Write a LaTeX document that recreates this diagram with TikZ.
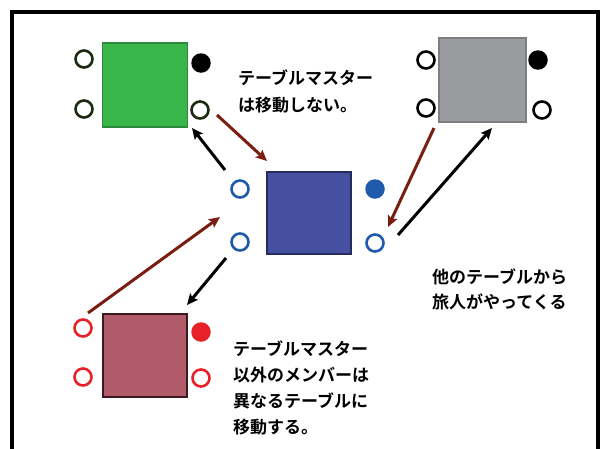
\documentclass[tikz,border=0pt]{standalone}
\usepackage{fontspec}
\newfontfamily\jpfont{Noto Sans CJK JP Bold}
\usetikzlibrary{arrows.meta}
\definecolor{gfill}{HTML}{3AB54A}
\definecolor{gline}{HTML}{2C8A3A}
\definecolor{gring}{HTML}{1C2A12}
\definecolor{grayfill}{HTML}{9A9B9F}
\definecolor{grayline}{HTML}{7E7F82}
\definecolor{bfill}{HTML}{4650A0}
\definecolor{bline}{HTML}{262B5C}
\definecolor{bring}{HTML}{1F5BAA}
\definecolor{rfill}{HTML}{B05A6A}
\definecolor{rline}{HTML}{3A1A1E}
\definecolor{rring}{HTML}{E8202A}
\definecolor{brown}{HTML}{7A1E12}
\tikzset{
  seat/.style={circle, minimum size=17pt, inner sep=0pt, line width=2.6pt, draw=#1, fill=white},
  seatfull/.style={circle, minimum size=19.5pt, inner sep=0pt, draw=none, fill=#1},
  tablebox/.style={rectangle, inner sep=0pt, line width=1.5pt},
  label/.style={font=\jpfont\fontsize{17pt}{20pt}\selectfont, anchor=base west, inner sep=0pt},
  blackarrow/.style={line width=3pt, draw=black, -{Stealth[length=11pt,width=10pt,inset=2pt]}},
  brownarrow/.style={line width=3pt, draw=brown, -{Stealth[length=11pt,width=10pt,inset=2pt]}},
}
\begin{document}
\begin{tikzpicture}[x=1pt,y=-1pt]
\useasboundingbox (0,0) rectangle (608,448);
\fill[white] (0,0) rectangle (608,448);
\draw[line width=3.5pt] (12,470) -- (12,12) -- (598,12) -- (598,470);

% green table
\node[tablebox, fill=gfill, draw=gline, minimum width=85pt, minimum height=84pt] (gt) at (145,85) {};
\node[seat=gring] (g1) at (84,59) {};
\node[seat=gring] (g2) at (84,109) {};
\node[seatfull=black] (g3) at (201,63) {};
\node[seat=gring] (g4) at (200,110) {};

% gray table
\node[tablebox, fill=grayfill, draw=grayline, minimum width=87pt, minimum height=84pt] (yt) at (482.5,80) {};
\node[seat=black] (y1) at (426,60) {};
\node[seat=black] (y2) at (426,108) {};
\node[seatfull=black] (y3) at (538,60) {};
\node[seat=black] (y4) at (542,110) {};

% blue table
\node[tablebox, fill=bfill, draw=bline, minimum width=84pt, minimum height=82pt] (bt) at (309,213) {};
\node[seat=bring] (b1) at (240,189) {};
\node[seat=bring] (b2) at (240,242) {};
\node[seatfull=bring] (b3) at (375,189) {};
\node[seat=bring] (b4) at (375,243) {};

% red table
\node[tablebox, fill=rfill, draw=rline, minimum width=84pt, minimum height=83pt] (rt) at (145,355.5) {};
\node[seat=rring] (r1) at (83,328) {};
\node[seat=rring] (r2) at (83,377) {};
\node[seatfull=rring] (r3) at (201,332) {};
\node[seat=rring] (r4) at (201,378) {};

% arrow end points
\coordinate (k1s) at (225,170); \coordinate (k1e) at (192,128);
\coordinate (m1s) at (217,115); \coordinate (m1e) at (267,161);
\coordinate (m2s) at (434,128); \coordinate (m2e) at (388,227);
\coordinate (k2s) at (398,235); \coordinate (k2e) at (492,128);
\coordinate (m3s) at (88,313);  \coordinate (m3e) at (220,217);
\coordinate (k3s) at (226,258); \coordinate (k3e) at (187,305);

\draw[blackarrow] (k1s) -- (k1e);
\draw[brownarrow] (m1s) -- (m1e);
\draw[brownarrow] (m2s) -- (m2e);
\draw[blackarrow] (k2s) -- (k2e);
\draw[brownarrow] (m3s) -- (m3e);
\draw[blackarrow] (k3s) -- (k3e);

% texts
\node[label] (t1a) at (238,84.5) {テーブルマスター};
\node[label] (t1b) at (238,111.5) {は移動しない。};
\node[label] (t2a) at (432,283.5) {他のテーブルから};
\node[label] (t2b) at (432,308.5) {旅人がやってくる};
\node[label] (t3a) at (233,355.5) {テーブルマスター};
\node[label] (t3b) at (233,381.5) {以外のメンバーは};
\node[label] (t3c) at (233,407.5) {異なるテーブルに};
\node[label] (t3d) at (233,433.5) {移動する。};
\end{tikzpicture}
\end{document}
